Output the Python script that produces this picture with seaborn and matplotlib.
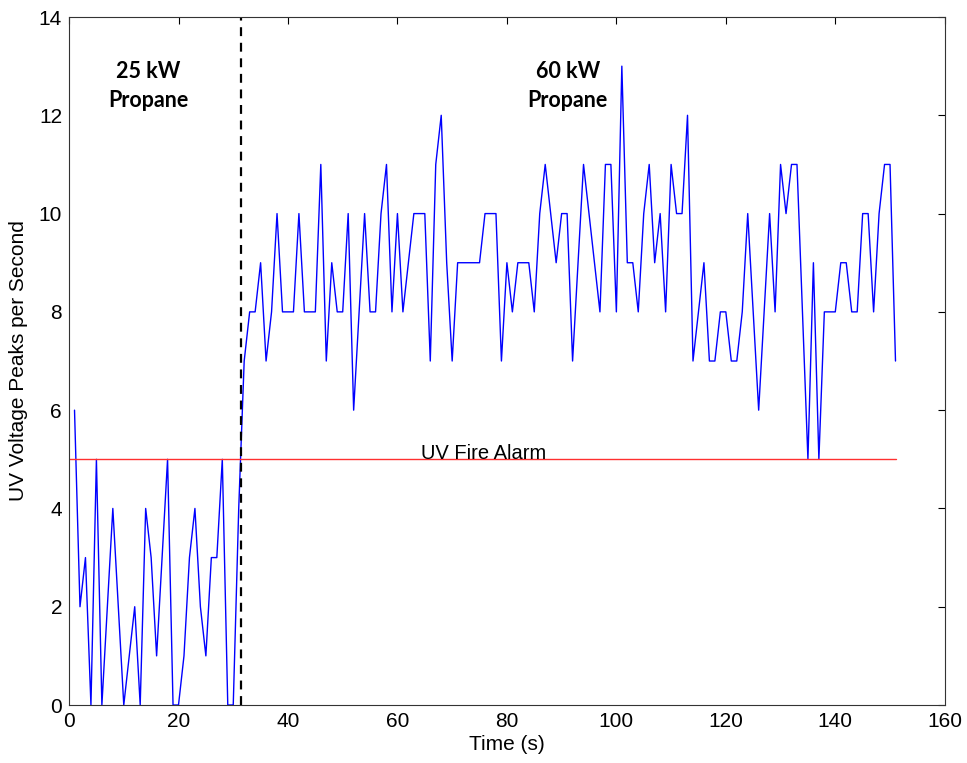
import matplotlib
matplotlib.use("Agg")
import matplotlib.pyplot as plt
import seaborn as sns
import pandas as pd

# UV voltage peak counts, one reading per second
time_s = list(range(1, 152))
peaks_per_second = [
    6, 2, 3, 0, 5, 0, 2, 4, 2, 0,          # 1-10
    1, 2, 0, 4, 3, 1, 3, 5, 0, 0,          # 11-20
    1, 3, 4, 2, 1, 3, 3, 5, 0, 0,          # 21-30
    4, 7, 8, 8, 9, 7, 8, 10, 8, 8,         # 31-40
    8, 10, 8, 8, 8, 11, 7, 9, 8, 8,        # 41-50
    10, 6, 8, 10, 8, 8, 10, 11, 8, 10,     # 51-60
    8, 9, 10, 10, 10, 7, 11, 12, 9, 7,     # 61-70
    9, 9, 9, 9, 9, 10, 10, 10, 7, 9,       # 71-80
    8, 9, 9, 9, 8, 10, 11, 10, 9, 10,      # 81-90
    10, 7, 9, 11, 10, 9, 8, 11, 11, 8,     # 91-100
    13, 9, 9, 8, 10, 11, 9, 10, 8, 11,     # 101-110
    10, 10, 12, 7, 8, 9, 7, 7, 8, 8,       # 111-120
    7, 7, 8, 10, 8, 6, 8, 10, 8, 11,       # 121-130
    10, 11, 11, 8, 5, 9, 5, 8, 8, 8,       # 131-140
    9, 9, 8, 8, 10, 10, 8, 10, 11, 11,     # 141-150
    7,                                     # 151
]

alarm_level = 5
fuel_change_time = 31.35
x_ticks = [0, 20, 40, 60, 80, 100, 120, 140, 160]
y_ticks = [0, 2, 4, 6, 8, 10, 12, 14]

df = pd.DataFrame({"Time (s)": time_s, "Peaks": peaks_per_second})

sns.set_style("white")
plt.rcParams["font.family"] = ["Liberation Sans", "DejaVu Sans"]
plt.rcParams["text.color"] = "black"
plt.rcParams["axes.labelcolor"] = "black"

fig = plt.figure(figsize=(9.67, 7.63), dpi=100)
ax = fig.add_axes([0.0714, 0.076, 0.9056, 0.9017])

sns.lineplot(data=df, x="Time (s)", y="Peaks", ax=ax, color="#0000FF",
             linewidth=1.0, estimator=None, errorbar=None)

# alarm threshold across the test duration
sns.lineplot(x=[0, time_s[-1]], y=[alarm_level, alarm_level], ax=ax,
             color="#FF3030", linewidth=1.0, estimator=None, errorbar=None)
ax.text(75.8, alarm_level + 0.01, "UV Fire Alarm", ha="center",
        va="baseline", fontsize=14.5, color="black")

# fuel change from 25 kW to 60 kW
ax.axvline(fuel_change_time, color="black", linestyle=(0, (4, 3)),
           linewidth=1.6)

bold_font = ["Lato", "DejaVu Sans"]
ax.text(14.5, 12.6, "25 kW\nPropane", ha="center", va="center",
        fontsize=15.5, fontweight="bold", family=bold_font,
        linespacing=1.45, color="black")
ax.text(91.1, 12.6, "60 kW\nPropane", ha="center", va="center",
        fontsize=15.5, fontweight="bold", family=bold_font,
        linespacing=1.45, color="black")

ax.set_xlim(0, 160)
ax.set_ylim(0, 14)
ax.set_xticks(x_ticks)
ax.set_yticks(y_ticks)
ax.set_xlabel("Time (s)", fontsize=15, labelpad=3)
ax.set_ylabel("UV Voltage Peaks per Second", fontsize=15, labelpad=8)
ax.tick_params(direction="in", top=True, right=True, length=5, width=0.8,
               labelsize=15, colors="black", pad=5)
for spine in ax.spines.values():
    spine.set_color("#333333")
    spine.set_linewidth(0.8)

fig.savefig("out.png", dpi=100, facecolor="white")
